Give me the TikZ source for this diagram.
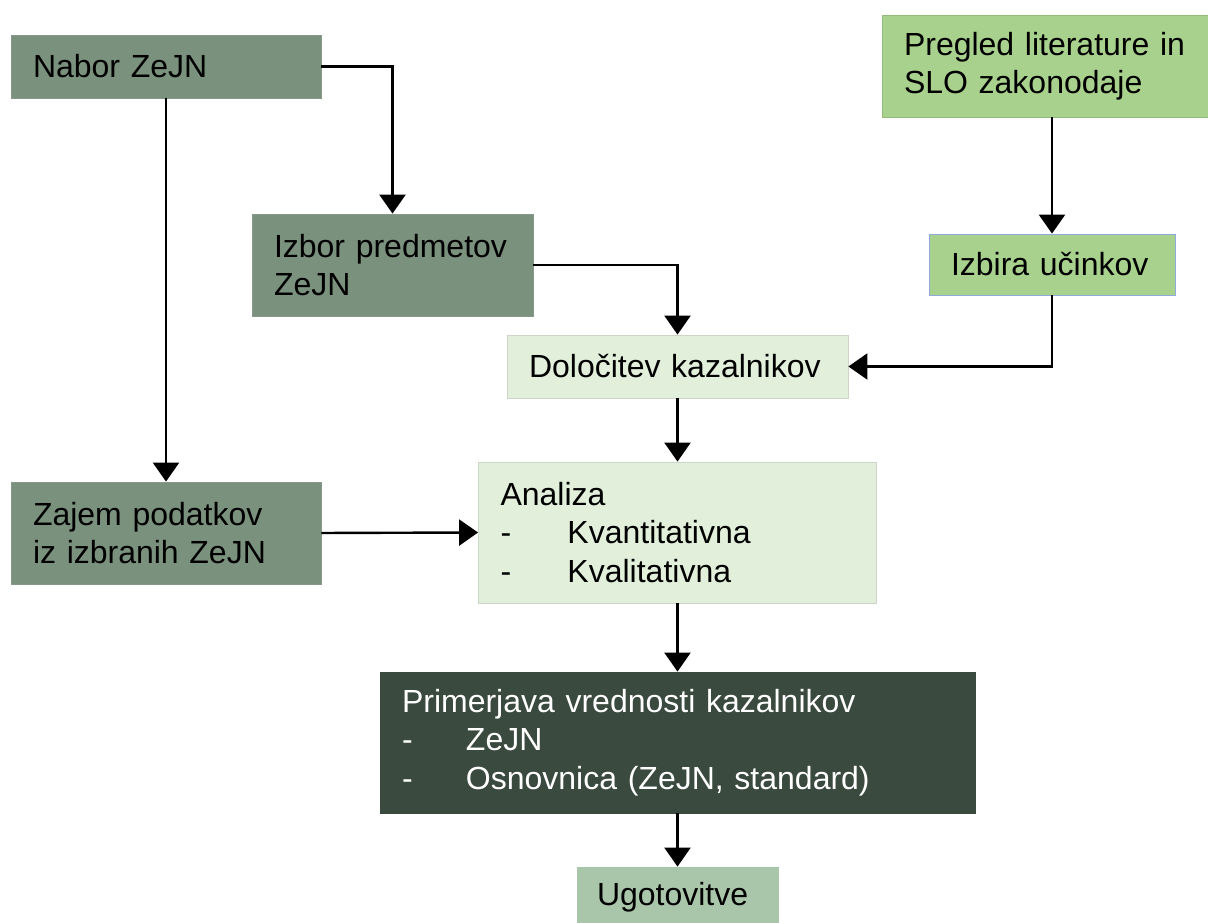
\documentclass[tikz,border=0pt]{standalone}
\usepackage{fontspec}
\setmainfont{Liberation Sans}
\usetikzlibrary{arrows.meta}
\definecolor{sage}{HTML}{7A917D}
\definecolor{sageborder}{HTML}{86998A}
\definecolor{lgreen}{HTML}{A9D18E}
\definecolor{lgreenborder}{HTML}{95BB7C}
\definecolor{bluebord}{HTML}{8FAADC}
\definecolor{pale}{HTML}{E2EFDA}
\definecolor{paleborder}{HTML}{CDD5C8}
\definecolor{darkbox}{HTML}{3A4A3E}
\definecolor{ugo}{HTML}{AAC6AA}
\begin{document}
\begin{tikzpicture}[x=1pt,y=1pt,
  box/.style={rectangle, inner xsep=22pt, inner ysep=0pt, align=left,
    font=\fontsize{32}{38.4}\selectfont, line width=0.8pt},
  arr/.style={line width=2.4pt, -{Triangle[width=26pt,length=19pt]}}]
\useasboundingbox[fill=white] (0,0) rectangle (1208,923);
% boxes: centre = ((x1+x2)/2, 923-(y1+y2)/2)
\node[box, fill=sage, draw=sageborder, minimum width=310pt, minimum height=63pt, text width=266pt]
  (nabor) at (166,856.5) {Nabor ZeJN};
\node[box, fill=lgreen, draw=lgreenborder, minimum width=330pt, minimum height=102pt, text width=286pt]
  (pregled) at (1047,857) {Pregled literature in\\SLO zakonodaje};
\node[box, fill=sage, draw=sageborder, minimum width=281pt, minimum height=102pt, text width=237pt]
  (izbor) at (392.5,658) {Izbor predmetov\\ZeJN};
\node[box, fill=lgreen, draw=bluebord, minimum width=246pt, minimum height=61pt, text width=202pt]
  (izbira) at (1052,658.5) {Izbira učinkov};
\node[box, fill=pale, draw=paleborder, minimum width=341pt, minimum height=63pt, text width=297pt]
  (dolo) at (677.5,556.5) {Določitev kazalnikov};
\node[box, fill=sage, draw=sageborder, minimum width=310pt, minimum height=102pt, text width=266pt]
  (zajem) at (166,390) {Zajem podatkov\\iz izbranih ZeJN};
\node[box, fill=pale, draw=paleborder, minimum width=398pt, minimum height=141pt, text width=354pt]
  (analiza) at (677.5,390.5) {Analiza\\\makebox[67pt][l]{-}Kvantitativna\\\makebox[67pt][l]{-}Kvalitativna};
\node[box, fill=darkbox, draw=darkbox, text=white, minimum width=595pt, minimum height=141pt, text width=551pt]
  (prim) at (677.5,180.5) {Primerjava vrednosti kazalnikov\\\makebox[64pt][l]{-}ZeJN\\\makebox[64pt][l]{-}Osnovnica (ZeJN, standard)};
\node[box, fill=ugo, draw=ugo, inner xsep=20pt, minimum width=201pt, minimum height=60pt, text width=161pt]
  (ugo) at (677.5,26) {Ugotovitve};
% connectors
\draw[arr] (nabor.east) -| (izbor.north);
\draw[arr] (nabor.south) -- (zajem.north);
\draw[arr] (izbor.east) -| (dolo.north);
\draw[arr] (izbira.north |- pregled.south) -- (izbira.north);
\draw[arr] (izbira.south) |- (dolo.east);
\draw[arr] (dolo.south) -- (analiza.north);
\draw[arr] (zajem.east) -- (analiza.west);
\draw[arr] (analiza.south) -- (prim.north);
\draw[arr] (prim.south) -- (ugo.north);
\end{tikzpicture}
\end{document}
